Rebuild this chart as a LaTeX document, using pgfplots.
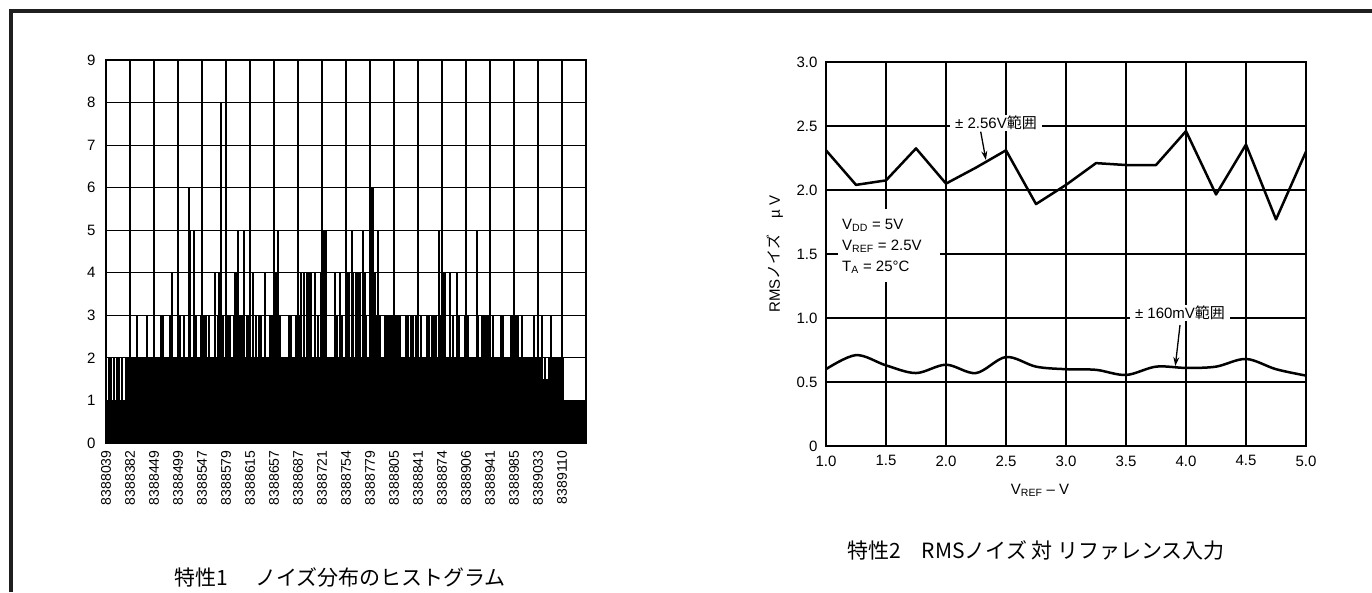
\documentclass[border=0pt]{standalone}
\usepackage{pgfplots}
\pgfplotsset{compat=1.18}
\usepackage{pgfplotstable}
\usepackage{fontspec}
\setmainfont{Liberation Sans}
\newfontfamily\jp{Noto Sans CJK JP}
\usetikzlibrary{arrows.meta}

\pgfplotstableread[row sep=\\]{
y\\
1\\1\\2\\1\\2\\1\\1\\2\\1\\1\\2\\1\\2\\1\\1\\2\\1\\1\\1\\2\\1\\2\\2\\2\\
2\\2\\2\\2\\2\\2\\3\\2\\2\\2\\2\\2\\2\\2\\2\\2\\3\\2\\2\\2\\2\\1\\2\\3\\
2\\2\\2\\1\\2\\2\\3\\2\\3\\2\\2\\2\\2\\2\\2\\3\\2\\4\\2\\2\\2\\2\\2\\2\\
2\\3\\2\\1\\2\\3\\1\\2\\1\\2\\6\\5\\2\\1\\2\\5\\2\\3\\1\\2\\1\\2\\3\\2\\
2\\3\\2\\3\\2\\2\\3\\2\\1\\2\\1\\2\\4\\2\\1\\3\\4\\2\\8\\2\\3\\1\\2\\2\\
2\\3\\2\\3\\2\\1\\2\\3\\4\\2\\4\\5\\2\\3\\1\\3\\2\\5\\2\\1\\3\\2\\3\\2\\
2\\2\\4\\1\\2\\3\\2\\1\\3\\2\\3\\2\\1\\2\\4\\2\\1\\2\\2\\3\\3\\2\\3\\3\\
4\\3\\4\\5\\3\\3\\2\\1\\2\\2\\1\\2\\2\\2\\3\\1\\3\\2\\1\\2\\2\\3\\2\\5\\
2\\3\\4\\2\\1\\4\\2\\2\\4\\2\\4\\2\\4\\2\\1\\2\\4\\1\\2\\3\\2\\1\\4\\2\\
2\\5\\2\\5\\1\\2\\2\\2\\1\\2\\1\\2\\4\\2\\3\\2\\2\\4\\2\\3\\2\\2\\2\\2\\
4\\2\\4\\2\\1\\5\\4\\2\\2\\4\\2\\4\\2\\4\\2\\1\\5\\2\\4\\3\\1\\2\\2\\4\\
2\\6\\6\\2\\4\\1\\3\\5\\2\\3\\1\\2\\1\\2\\3\\2\\3\\2\\3\\3\\2\\3\\2\\3\\
3\\2\\3\\3\\2\\3\\2\\1\\2\\1\\2\\3\\2\\3\\2\\2\\3\\2\\3\\2\\2\\3\\2\\3\\
2\\1\\3\\2\\1\\2\\2\\2\\3\\1\\3\\2\\2\\3\\1\\3\\2\\3\\2\\2\\5\\3\\2\\2\\
4\\2\\4\\2\\1\\2\\1\\4\\2\\2\\3\\1\\2\\2\\4\\2\\3\\2\\2\\1\\2\\2\\3\\1\\
2\\3\\2\\1\\2\\2\\1\\2\\1\\2\\5\\3\\2\\1\\2\\3\\2\\3\\2\\3\\2\\3\\2\\3\\
2\\2\\3\\2\\1\\2\\1\\2\\1\\2\\3\\2\\3\\2\\2\\2\\2\\1\\2\\2\\3\\2\\3\\2\\
2\\3\\2\\3\\2\\1\\2\\3\\1\\2\\1\\2\\2\\1\\2\\2\\1\\2\\2\\3\\2\\1\\2\\2\\
1\\2\\1.5\\3\\1.5\\1.5\\2\\1.5\\1.5\\1.5\\2\\1.5\\3\\1.5\\2\\1\\2\\1\\2\\2\\1\\2\\1\\2\\
2\\1\\1\\1\\1\\1\\1\\1\\1\\1\\1\\1\\1\\1\\1\\1\\1\\1\\1\\1\\1\\1\\1\\1\\
1\\
}\histdata

\begin{document}
\begin{tikzpicture}[x=1pt,y=1pt]
\useasboundingbox (0,0) rectangle (1372,592);
\draw[line width=3.7pt, black!88] (10.9,0) -- (10.9,581.1) -- (1372,581.1);

% ---------- histogram ----------
\begin{axis}[at={(106pt,149pt)}, anchor=south west, scale only axis,
  width=480pt, height=383pt,
  xmin=0, xmax=480, ymin=0, ymax=9,
  xtick={0,24,...,480},
  xticklabels={8388039,8388382,8388449,8388499,8388547,8388579,8388615,8388657,8388687,8388721,8388754,8388779,8388805,8388841,8388874,8388906,8388941,8388985,8389033,8389110,{}},
  ytick={0,1,2,3,4,5,6,7,8,9},
  yticklabels={0,1,2,3,4,5,6,7,8,9},
  grid=major, major grid style={line width=1.2pt, black},
  axis line style={line width=1.6pt},
  major tick length=0pt,
  xticklabel shift=4pt, yticklabel shift=7pt,
  xticklabel style={rotate=90, anchor=east, font=\fontsize{14}{16}\selectfont},
  yticklabel style={font=\fontsize{15}{17}\selectfont},
]
\addplot[const plot, fill=black, draw=black, line width=0.3pt] table[x expr=\coordindex, y index=0] {\histdata} \closedcycle;
\end{axis}

% ---------- RMS noise ----------
\begin{axis}[at={(826pt,146pt)}, anchor=south west, scale only axis,
  width=480pt, height=384pt,
  xmin=1, xmax=5, ymin=0, ymax=3,
  xtick={1,1.5,2,2.5,3,3.5,4,4.5,5},
  xticklabels={1.0,1.5,2.0,2.5,3.0,3.5,4.0,4.5,5.0},
  ytick={0,0.5,1,1.5,2,2.5,3},
  yticklabels={0,0.5,1.0,1.5,2.0,2.5,3.0},
  grid=major, major grid style={line width=1.2pt, black},
  axis line style={line width=2pt},
  major tick length=0pt,
  xticklabel shift=6pt, yticklabel shift=5pt,
  tick label style={font=\fontsize{15}{17}\selectfont},
]
\addplot[black, line width=2.5pt, line join=round] coordinates {
(1.0,2.31)(1.25,2.04)(1.5,2.075)(1.75,2.325)(2.0,2.05)(2.25,2.175)(2.5,2.31)(2.75,1.89)(3.0,2.04)(3.25,2.21)(3.5,2.195)(3.75,2.195)(4.0,2.46)(4.25,1.965)(4.5,2.355)(4.75,1.77)(5.0,2.30)};
\addplot[black, line width=2.5pt, smooth, tension=0.55] coordinates {
(1.0,0.60)(1.25,0.71)(1.5,0.63)(1.75,0.57)(2.0,0.635)(2.25,0.57)(2.5,0.695)(2.75,0.62)(3.0,0.60)(3.25,0.595)(3.5,0.555)(3.75,0.62)(4.0,0.61)(4.25,0.62)(4.5,0.68)(4.75,0.60)(5.0,0.55)};
\end{axis}

% annotations
\fill[white] (838,310) rectangle (940,383);
\node[anchor=west, align=left, font=\fontsize{15}{21}\selectfont, inner sep=0pt] at (842,346)
  {V\textsubscript{DD} = 5V\\V\textsubscript{REF} = 2.5V\\T\textsubscript{A} = 25°C};
\node[fill=white, inner xsep=5pt, inner ysep=1pt, font=\fontsize{15}{17}\selectfont] at (996,469) {± 2.56V{\jp 範囲}};
\node[fill=white, inner xsep=5pt, inner ysep=1pt, font=\fontsize{15}{17}\selectfont] at (1180,279) {± 160mV{\jp 範囲}};
\draw[line width=1.3pt, -{Stealth[length=9pt,width=6pt]}] (980.7,460.3) -- (985.9,432);
\draw[line width=1.3pt, -{Stealth[length=9pt,width=6pt]}] (1180,267) -- (1175.3,226);

\node[rotate=90, font=\fontsize{15}{17}\selectfont] at (775,338) {RMS{\jp ノイズ}\hspace{1.1em}µ V};
\node[font=\fontsize{15}{17}\selectfont] at (1040,102) {V\textsubscript{REF} – V};

\node[font=\jp\fontsize{21}{23}\selectfont] at (340,15) {特性1\hspace{1.3em}ノイズ分布のヒストグラム};
\node[font=\jp\fontsize{21}{23}\selectfont] at (1036,42) {特性2\hspace{1em}RMSノイズ 対 リファレンス入力};
\end{tikzpicture}
\end{document}
